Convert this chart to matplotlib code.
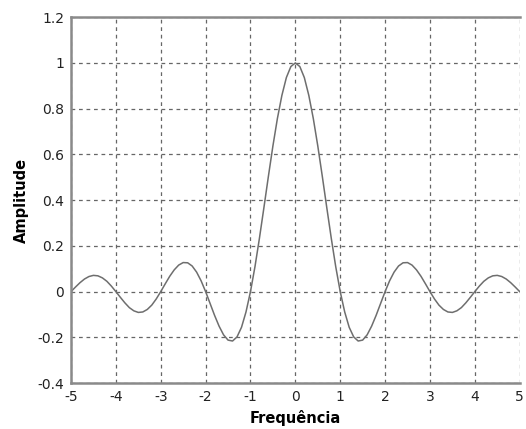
import numpy as np
import matplotlib
matplotlib.use("Agg")
import matplotlib.pyplot as plt

# values, step 0.1 from -5 to 5
freq = [round(-5 + 0.1 * i, 1) for i in range(101)]
amp = [
    0.000, 0.020, 0.039, 0.055, 0.066, 0.071, 0.069, 0.060, 0.045, 0.024,
    0.000, -0.025, -0.049, -0.070, -0.084, -0.091, -0.089, -0.078, -0.059, -0.032,
    0.000, 0.034, 0.067, 0.095, 0.116, 0.127, 0.126, 0.112, 0.085, 0.047,
    0.000, -0.052, -0.104, -0.151, -0.189, -0.212, -0.216, -0.198, -0.156, -0.089,
    0.000, 0.109, 0.234, 0.368, 0.505, 0.637, 0.757, 0.858, 0.936, 0.984,
    1.000,
    0.984, 0.936, 0.858, 0.757, 0.637, 0.505, 0.368, 0.234, 0.109, 0.000,
    -0.089, -0.156, -0.198, -0.216, -0.212, -0.189, -0.151, -0.104, -0.052, 0.000,
    0.047, 0.085, 0.112, 0.126, 0.127, 0.116, 0.095, 0.067, 0.034, 0.000,
    -0.032, -0.059, -0.078, -0.089, -0.091, -0.084, -0.070, -0.049, -0.025, 0.000,
    0.024, 0.045, 0.060, 0.069, 0.071, 0.066, 0.055, 0.039, 0.020, 0.000,
]
xticks = [-5, -4, -3, -2, -1, 0, 1, 2, 3, 4, 5]
yticks = [-0.4, -0.2, 0, 0.2, 0.4, 0.6, 0.8, 1, 1.2]
ytick_labels = ['-0.4', '-0.2', '0', '0.2', '0.4', '0.6', '0.8', '1', '1.2']

fig = plt.figure(figsize=(5.26, 4.29), dpi=100)
ax = fig.add_axes([0.135, 0.107, 0.853, 0.853])

ax.plot(freq, amp, color='#6e6e6e', linewidth=1.1)

ax.set_xlim(-5, 5)
ax.set_ylim(-0.4, 1.2)
ax.set_xticks(xticks)
ax.set_xticklabels([str(t) for t in xticks])
ax.set_yticks(yticks)
ax.set_yticklabels(ytick_labels)
ax.tick_params(length=0, labelsize=10, colors='#222222', pad=5)

ax.grid(True, linestyle=(0, (3, 3)), color='#666666', linewidth=0.9)

for side in ['left', 'bottom', 'top']:
    ax.spines[side].set_color('#8a8a8a')
    ax.spines[side].set_linewidth(1.8)
ax.spines['right'].set_visible(False)

ax.set_xlabel('Frequência', fontsize=10.5, fontweight='bold', labelpad=4)
ax.set_ylabel('Amplitude', fontsize=10.5, fontweight='bold', labelpad=6)

fig.savefig('out.png', dpi=100)
